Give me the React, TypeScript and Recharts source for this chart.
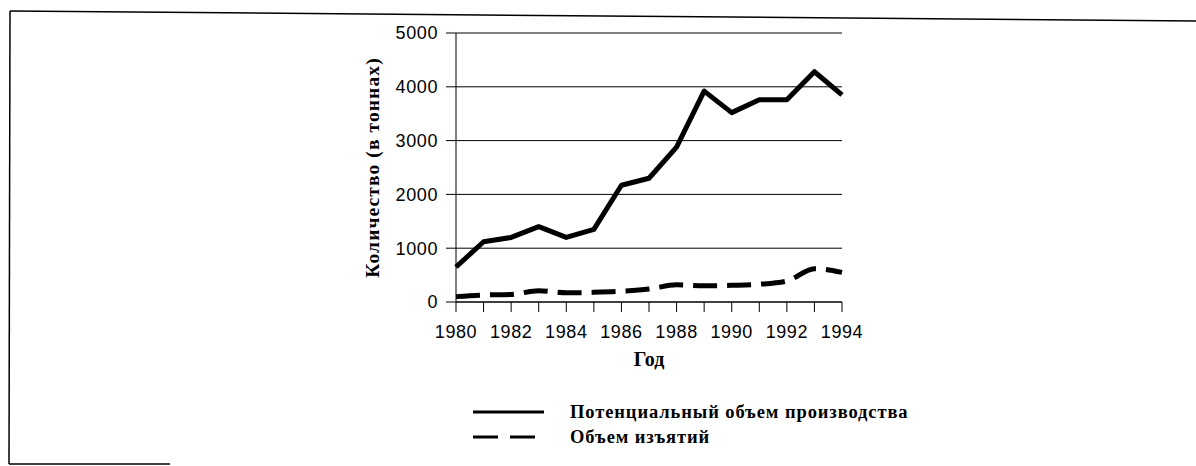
import { LineChart, Line, XAxis, YAxis, CartesianGrid } from "recharts";

const years = [1980, 1981, 1982, 1983, 1984, 1985, 1986, 1987, 1988, 1989, 1990, 1991, 1992, 1993, 1994];
const potential = [650, 1120, 1200, 1400, 1200, 1350, 2170, 2300, 2880, 3920, 3520, 3760, 3760, 4280, 3850];
const harvest = [100, 130, 140, 210, 170, 180, 200, 240, 320, 300, 310, 330, 390, 620, 550];
const yTicks = [0, 1000, 2000, 3000, 4000, 5000];

const SERIES_NAMES = {
  potential: "Потенциальный объем производства",
  harvest: "Объем изъятий",
};

const data = years.map((year, i) => ({
  year,
  potential: potential[i],
  harvest: harvest[i],
}));

const SANS = "'Liberation Sans', Arial, sans-serif";
const SERIF = "'Liberation Serif', 'Times New Roman', serif";

const tickStyle = { fontFamily: SANS, fontSize: 18, fill: "#000", letterSpacing: 0.6 };

// hand-drawn legend under the plot, like the scanned original
function ChartLegend() {
  return (
    <svg width={540} height={66} style={{ position: "absolute", left: 470, top: 395, overflow: "visible" }}>
      <line x1={3} y1={17} x2={74} y2={17} stroke="#000" strokeWidth={3} />
      <line x1={3} y1={42} x2={74} y2={42} stroke="#000" strokeWidth={3} strokeDasharray="25 12" />
      <text x={100} y={23} fontFamily={SERIF} fontWeight="bold" fontSize={18.5} letterSpacing={0.9} fill="#000">
        {SERIES_NAMES.potential}
      </text>
      <text x={100} y={48} fontFamily={SERIF} fontWeight="bold" fontSize={18.5} letterSpacing={0.9} fill="#000">
        {SERIES_NAMES.harvest}
      </text>
    </svg>
  );
}

export default function App() {
  return (
    <div style={{ position: "absolute", left: 0, top: 0, width: 1196, height: 466, background: "#fff" }}>
      {/* page frame */}
      <svg width={1196} height={466} style={{ position: "absolute", left: 0, top: 0 }}>
        <line x1={10} y1={11} x2={1196} y2={21} stroke="#000" strokeWidth={1.5} />
        <line x1={10} y1={11} x2={9} y2={464} stroke="#000" strokeWidth={1.5} />
        <line x1={9} y1={464} x2={170} y2={464} stroke="#000" strokeWidth={1.5} />
      </svg>
      <div style={{ position: "absolute", left: 0, top: 0 }}>
        <LineChart width={1196} height={466} data={data} margin={{ top: 33, right: 354, bottom: 94, left: 366 }}>
          <CartesianGrid vertical={false} stroke="#000" strokeWidth={1} />
          <XAxis
            dataKey="year"
            type="number"
            domain={[1980, 1994]}
            ticks={years}
            interval={0}
            tickFormatter={(v: number) => (v % 2 === 0 ? String(v) : "")}
            tickSize={10}
            tickMargin={13}
            height={70}
            stroke="#000"
            tick={tickStyle}
            label={{
              value: "Год",
              position: "insideBottom",
              offset: 6,
              style: { fontFamily: SERIF, fontWeight: "bold", fontSize: 20, fill: "#000" },
            }}
          />
          <YAxis
            type="number"
            domain={[0, 5000]}
            ticks={yTicks}
            interval={0}
            tickSize={10}
            tickMargin={8}
            width={90}
            stroke="#000"
            tick={tickStyle}
            label={{
              value: "Количество (в тоннах)",
              angle: -90,
              position: "insideLeft",
              offset: 6,
              style: {
                textAnchor: "middle",
                fontFamily: SERIF,
                fontWeight: "bold",
                fontSize: 19.5,
                letterSpacing: 1.1,
                fill: "#000",
              },
            }}
          />
          <Line
            dataKey="potential"
            name={SERIES_NAMES.potential}
            type="linear"
            stroke="#000"
            strokeWidth={5}
            strokeLinejoin="round"
            dot={false}
            isAnimationActive={false}
          />
          <Line
            dataKey="harvest"
            name={SERIES_NAMES.harvest}
            type="monotone"
            stroke="#000"
            strokeWidth={5}
            strokeDasharray="24 10"
            dot={false}
            isAnimationActive={false}
          />
        </LineChart>
      </div>
      <ChartLegend />
    </div>
  );
}
